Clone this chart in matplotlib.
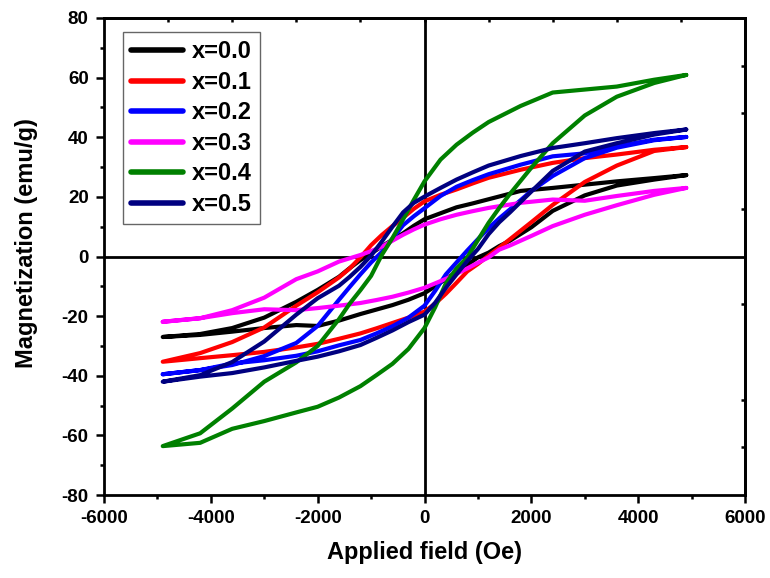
import matplotlib
matplotlib.use("Agg")
import matplotlib.pyplot as plt
from matplotlib.ticker import MultipleLocator

plt.rcParams['font.family'] = ['Liberation Sans', 'DejaVu Sans']
plt.rcParams['font.weight'] = 'bold'
plt.rcParams['axes.unicode_minus'] = False

# ---------------- data ----------------
labels = ["x=0.0", "x=0.1", "x=0.2", "x=0.3", "x=0.4", "x=0.5"]
colors = ["#000000", "#ff0000", "#0000ff", "#ff00ff", "#008000", "#000080"]

# descending branch (from +H to -H)
field_down = [4900, 4300, 3600, 3000, 2400, 1800, 1200, 900, 600, 300, 0,
              -200, -400, -600, -800, -1000, -1200, -1400, -1600, -2000,
              -2400, -3000, -3600, -4200, -4900]
# ascending branch (from -H to +H)
field_up = [-4900, -4200, -3600, -3000, -2400, -2000, -1600, -1200, -900, -600,
            -300, 0, 200, 400, 600, 800, 1000, 1200, 1400, 1600, 2000, 2400,
            3000, 3600, 4300, 4900]

m_down_x00 = [27.3, 26.3, 25.2, 24.1, 23.0, 22.0, 19.2, 17.8, 16.5, 14.5, 12.5,
              10.3, 7.8, 5.6, 3.4, 1.0, -1.2, -3.9, -6.8, -11.2, -15.2, -20.5,
              -24.0, -26.0, -27.0]
m_up_x00 = [-27.0, -26.3, -25.2, -24.0, -23.0, -23.3, -21.5, -19.3, -17.8, -16.3,
            -14.5, -12.3, -10.0, -7.5, -5.2, -2.8, -0.3, 1.3, 3.5, 5.3, 9.8, 15.3,
            20.5, 23.8, 25.8, 27.3]

m_down_x01 = [36.7, 35.8, 34.2, 33.0, 31.4, 29.1, 26.4, 24.5, 22.5, 20.7, 18.5,
              16.0, 13.0, 10.2, 7.2, 3.8, -0.3, -4.0, -7.0, -12.0, -16.5, -23.8,
              -28.7, -32.4, -35.3]
m_up_x01 = [-35.3, -34.1, -33.1, -32.0, -30.5, -29.3, -27.6, -25.8, -24.1, -22.3,
            -20.5, -18.5, -15.8, -12.5, -8.8, -5.0, -2.5, 0.3, 3.0, 5.8, 11.5,
            17.3, 25.0, 30.5, 35.4, 36.7]

m_down_x02 = [40.1, 39.2, 37.0, 34.6, 33.6, 30.8, 27.6, 25.6, 23.4, 20.3, 16.2,
              13.5, 10.5, 6.0, 1.5, -2.0, -6.0, -10.2, -14.5, -23.3, -29.0, -33.4,
              -36.4, -38.1, -39.5]
m_up_x02 = [-39.5, -38.1, -35.9, -34.8, -33.3, -31.8, -29.8, -28.0, -25.8, -23.4,
            -20.5, -16.5, -11.5, -6.0, -2.0, 2.0, 5.8, 9.5, 12.8, 15.8, 22.0, 27.0,
            33.0, 36.5, 39.0, 40.1]

m_down_x03 = [23.0, 22.0, 20.3, 18.7, 19.1, 18.0, 16.3, 15.2, 14.0, 12.5, 10.7,
              9.1, 7.3, 5.3, 3.3, 1.8, 0.5, -0.6, -1.7, -5.0, -7.6, -13.8, -18.0,
              -20.7, -21.9]
m_up_x03 = [-21.9, -20.7, -19.0, -17.7, -18.0, -17.3, -16.5, -15.6, -14.6, -13.5,
            -12.1, -10.5, -9.0, -7.5, -5.8, -4.0, -2.1, -0.3, 2.3, 3.7, 6.9, 10.2,
            14.0, 17.2, 20.7, 23.0]

m_down_x04 = [60.9, 59.3, 57.0, 56.0, 55.0, 50.5, 45.1, 41.5, 37.5, 32.5, 25.2,
              19.0, 12.5, 6.2, 0.5, -6.5, -11.3, -15.8, -21.0, -30.0, -35.5, -42.0,
              -51.0, -59.3, -63.6]
m_up_x04 = [-63.6, -62.5, -57.8, -55.2, -52.3, -50.4, -47.3, -43.5, -39.8, -36.0,
            -31.0, -24.0, -17.0, -9.0, -4.0, -0.3, 5.5, 11.3, 16.3, 21.0, 29.8,
            38.0, 47.3, 53.6, 58.2, 60.9]

m_down_x05 = [42.6, 41.4, 39.7, 38.0, 36.4, 33.7, 30.5, 28.2, 25.8, 23.0, 20.1,
              18.0, 14.8, 10.0, 5.0, 0.3, -3.5, -6.8, -9.8, -14.0, -19.5, -28.5,
              -35.4, -39.8, -42.0]
m_up_x05 = [-42.0, -40.3, -39.1, -37.2, -35.0, -33.6, -31.8, -29.7, -27.3, -24.8,
            -22.0, -19.5, -15.5, -10.5, -6.0, -1.5, 2.5, 7.5, 11.5, 14.8, 21.8,
            28.7, 35.2, 38.0, 40.9, 42.6]

m_down = [m_down_x00, m_down_x01, m_down_x02, m_down_x03, m_down_x04, m_down_x05]
m_up = [m_up_x00, m_up_x01, m_up_x02, m_up_x03, m_up_x04, m_up_x05]

x_ticks = [-6000, -4000, -2000, 0, 2000, 4000, 6000]
y_ticks = [-80, -60, -40, -20, 0, 20, 40, 60, 80]
top_ticks = [-4800, -3600, -2400, -1200, 0, 1200, 2400, 3600, 4800]
right_ticks = [-64, -48, -16, 16, 48, 64]

# ---------------- figure ----------------
W, H = 770, 578
fig = plt.figure(figsize=(W / 100, H / 100), dpi=100)
ax = fig.add_axes([104 / W, 1 - 495 / H, (745 - 104) / W, (495 - 18) / H])

ax.axhline(0, color='black', lw=2.0, zorder=1)
ax.axvline(0, color='black', lw=2.0, zorder=1)

for lab, col, md, mu in zip(labels, colors, m_down, m_up):
    ax.plot(field_down + field_up, md + mu, color=col, lw=3.0, label=lab,
            solid_joinstyle='round', solid_capstyle='round', zorder=3)

ax.set_xlim(-6000, 6000)
ax.set_ylim(-80, 80)
ax.set_xticks(x_ticks)
ax.set_yticks(y_ticks)
ax.xaxis.set_minor_locator(MultipleLocator(1000))
ax.yaxis.set_minor_locator(MultipleLocator(10))
ax.tick_params(which='major', direction='out', length=6, width=1.8,
               labelsize=13.5, pad=5)
ax.tick_params(which='minor', direction='out', length=3, width=1.8)
for t in ax.get_xticklabels() + ax.get_yticklabels():
    t.set_fontweight('bold')

for s in ax.spines.values():
    s.set_linewidth(2.0)

sec_top = ax.secondary_xaxis('top')
sec_top.set_xticks(top_ticks)
sec_top.tick_params(direction='in', length=3, width=1.8, labeltop=False)
sec_top.spines['top'].set_linewidth(2.0)

sec_right = ax.secondary_yaxis('right')
sec_right.set_yticks(right_ticks)
sec_right.tick_params(direction='in', length=3, width=1.8, labelright=False)
sec_right.spines['right'].set_linewidth(2.0)

ax.set_xlabel("Applied field (Oe)", fontsize=17, fontweight='bold', labelpad=10)
ax.set_ylabel("Magnetization (emu/g)", fontsize=17, fontweight='bold')
ax.yaxis.set_label_coords(-0.103, (495 - 243) / 477)

leg = ax.legend(loc='upper left', bbox_to_anchor=((123 - 104) / 641, (495 - 32) / 477),
                fontsize=17, frameon=True, fancybox=False, edgecolor='#404040',
                handlelength=2.2, handletextpad=0.35, labelspacing=0.32,
                borderpad=0.35, borderaxespad=0)
leg.get_frame().set_linewidth(1.0)
for line in leg.get_lines():
    line.set_linewidth(4.0)
for t in leg.get_texts():
    t.set_fontweight('bold')

fig.savefig("out.png", dpi=100)
